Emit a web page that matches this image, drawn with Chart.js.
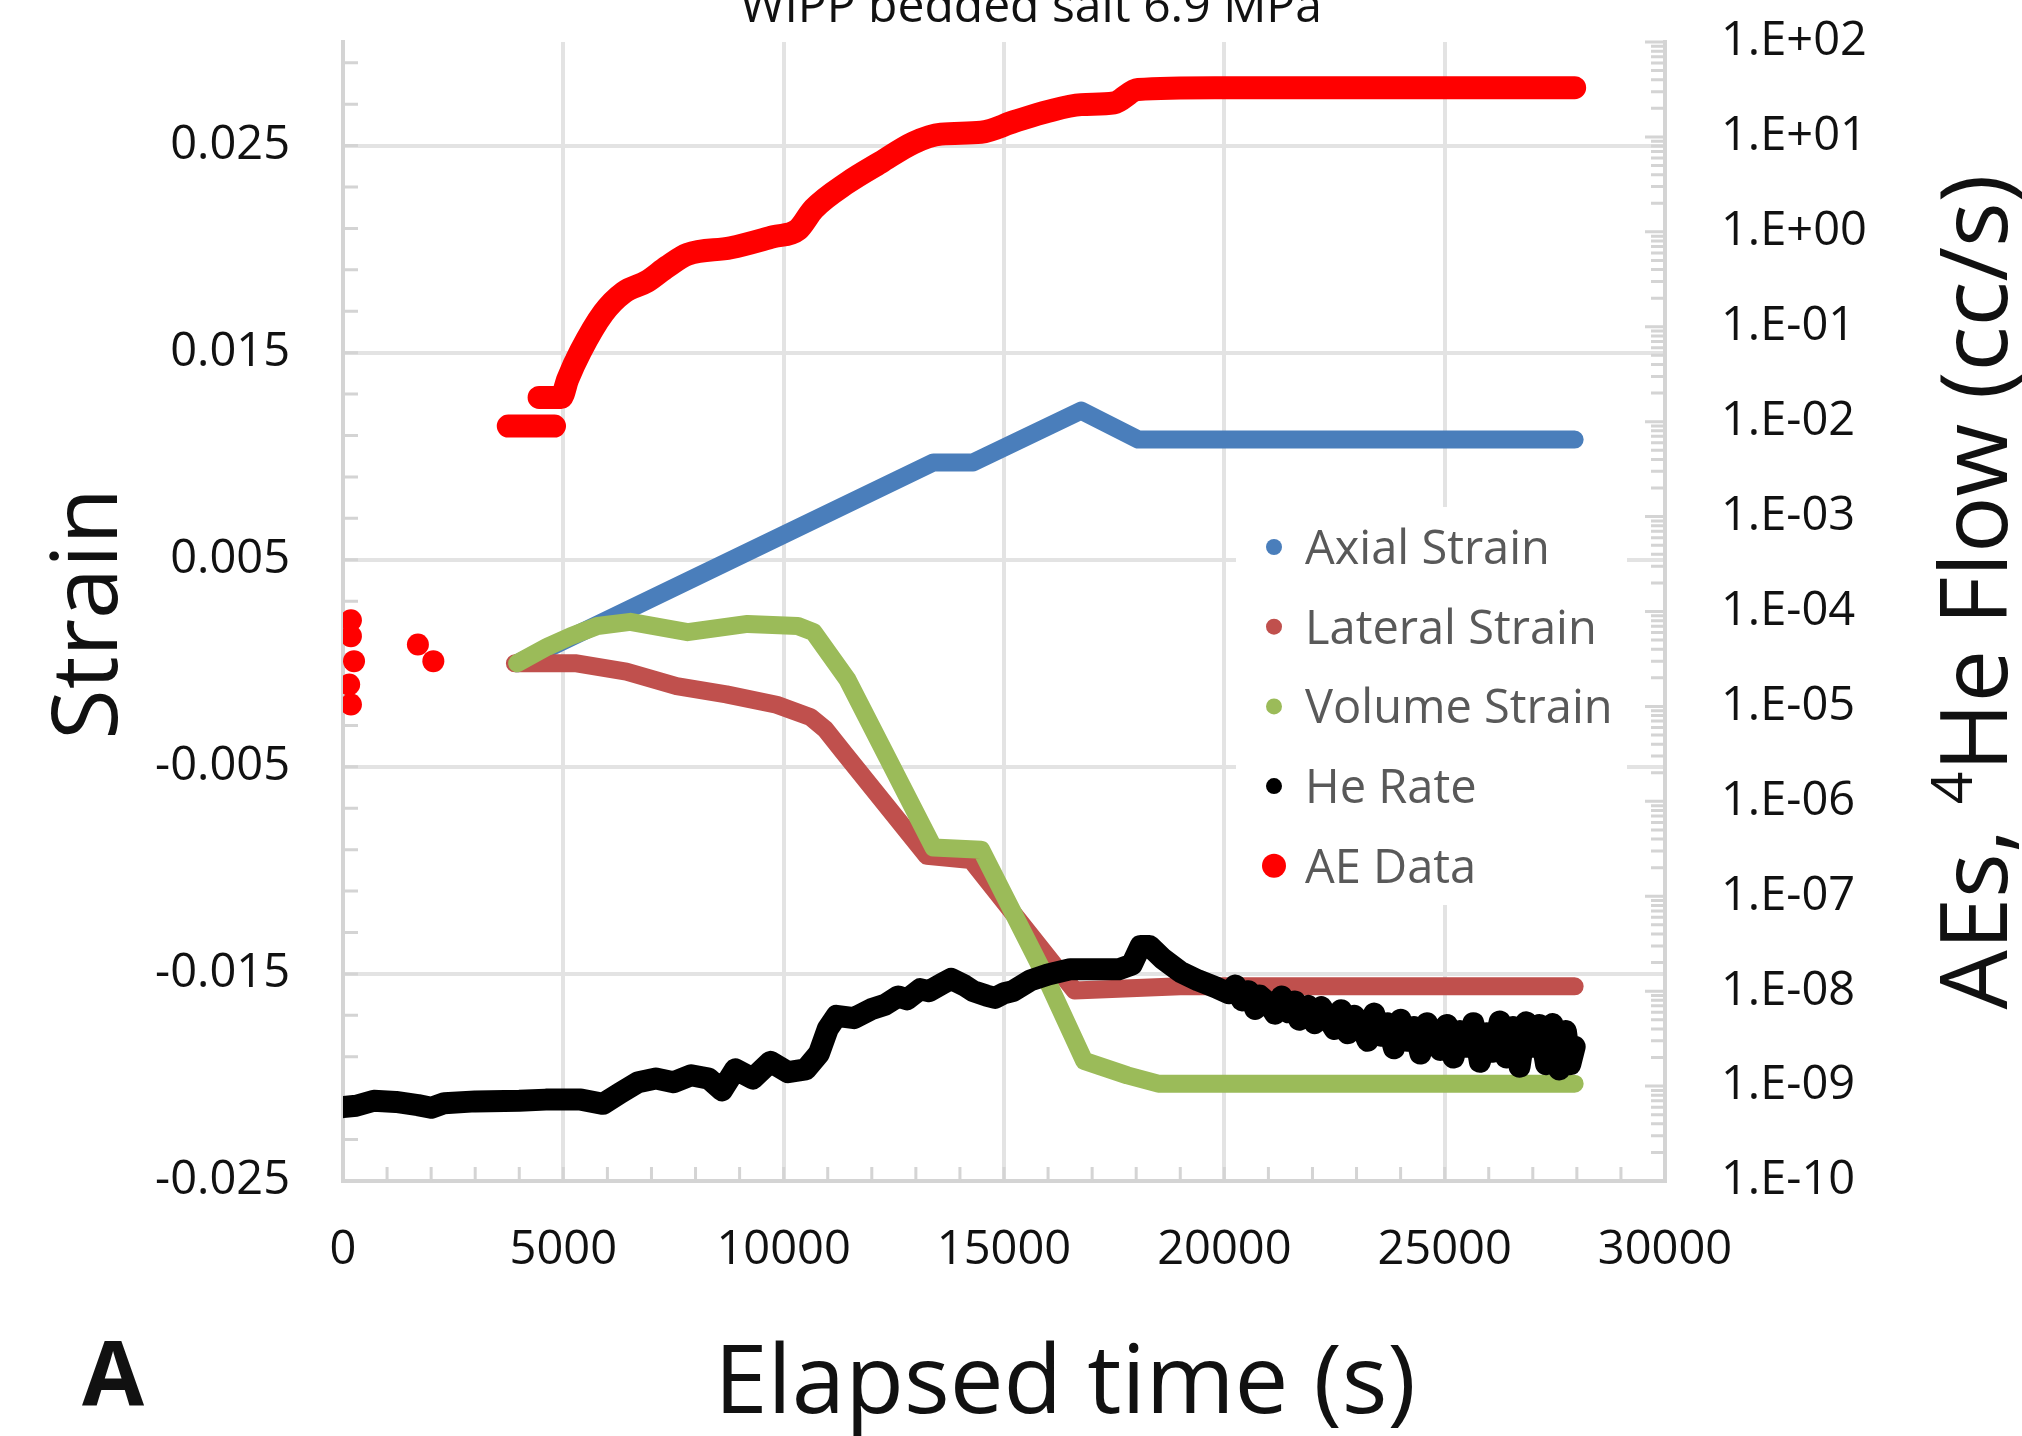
<!DOCTYPE html>
<html>
<head>
<meta charset="utf-8">
<title>WIPP bedded salt 6.9 MPa</title>
<script src="https://cdn.jsdelivr.net/npm/chart.js@4.4.1/dist/chart.umd.min.js"></script>
<style>
  html, body { margin: 0; padding: 0; background: #fff; }
  #chart { display: block; }
</style>
</head>
<body>
<canvas id="chart" width="2022" height="1436"></canvas>
<script>
// Texts
const chartTitle = "WIPP bedded salt 6.9 MPa";
const xTitle = "Elapsed time (s)";
const leftTitle = "Strain";
const panelLetter = "A";

// Tick labels
const timeTicks = [0, 5000, 10000, 15000, 20000, 25000, 30000];
const strainTicks = [-0.025, -0.015, -0.005, 0.005, 0.015, 0.025];
const strainTickLabels = ["-0.025", "-0.015", "-0.005", "0.005", "0.015", "0.025"];
const flowTicks = [1e-10, 1e-9, 1e-8, 1e-7, 1e-6, 1e-5, 1e-4, 1e-3, 1e-2, 1e-1, 1e0, 1e1, 1e2];
const flowTickLabels = ["1.E-10", "1.E-09", "1.E-08", "1.E-07", "1.E-06", "1.E-05", "1.E-04",
                        "1.E-03", "1.E-02", "1.E-01", "1.E+00", "1.E+01", "1.E+02"];

// Axial strain (left axis)
const axialTime = [3950, 13400, 14300, 16750, 18050, 27950];
const axialStrain = [0.0000, 0.0097, 0.0097, 0.0122, 0.0108, 0.0108];

// Lateral strain (left axis)
const lateralTime = [3900, 5300, 6430, 7570, 8700, 9840, 10610, 10950, 11360, 13250, 14250, 16600, 19000, 27950];
const lateralStrain = [0.0000, 0.0000, -0.0004, -0.0011, -0.0015, -0.0020, -0.0026, -0.0032, -0.0043,
                       -0.0093, -0.0095, -0.0158, -0.0156, -0.0156];

// Volume strain (left axis)
const volumeTime = [3950, 4640, 5160, 5770, 6520, 7820, 9180, 10320, 10680, 11450, 13400, 14480, 15910, 16820, 17800, 18500, 27950];
const volumeStrain = [0.0000, 0.0008, 0.0013, 0.0018, 0.0020, 0.0015, 0.0019, 0.0018, 0.0015, -0.0008,
                      -0.0089, -0.0090, -0.0150, -0.0192, -0.0199, -0.0203, -0.0203];

// He rate, cc/s (right axis)
const heTime = [0, 300, 700, 1200, 1700, 2000, 2300, 3000, 4000, 4600, 5400, 5900, 6300, 6700, 7100, 7500,
                7900, 8300, 8600, 8900, 9300, 9700, 10100, 10500, 10800, 11000, 11200, 11600, 12000, 12300,
                12600, 12800, 13100, 13300, 13600, 13800, 14100, 14300, 14600, 14800, 15000, 15200, 15600,
                16000, 16500, 17000, 17600, 17900, 18100, 18300, 18600, 19000, 19400, 19800, 20100,
                20250, 20400, 20550, 20700, 20800, 21000, 21150, 21300, 21450, 21600, 21700, 21900, 22050,
                22200, 22350, 22500, 22650, 22800, 22950, 23100, 23250, 23400, 23550, 23700, 23850, 24000,
                24150, 24300, 24450, 24600, 24750, 24900, 25050, 25200, 25350, 25500, 25650, 25800, 25950,
                26100, 26250, 26400, 26550, 26700, 26850, 27000, 27150, 27300, 27450, 27600, 27750, 27850, 27950];
const heRate = [6.0e-10, 6.2e-10, 7.0e-10, 6.8e-10, 6.3e-10, 5.9e-10, 6.6e-10, 6.9e-10, 7.0e-10, 7.2e-10,
                7.2e-10, 6.5e-10, 8.5e-10, 1.1e-9, 1.2e-9, 1.1e-9, 1.3e-9, 1.2e-9, 9.0e-10, 1.5e-9, 1.2e-9,
                1.8e-9, 1.4e-9, 1.5e-9, 2.2e-9, 4.0e-9, 5.5e-9, 5.2e-9, 6.5e-9, 7.2e-9,
                8.8e-9, 8.2e-9, 1.05e-8, 1.0e-8, 1.2e-8, 1.35e-8, 1.15e-8, 1.0e-8, 9.0e-9, 8.5e-9,
                9.5e-9, 1.0e-8, 1.3e-8,
                1.5e-8, 1.7e-8, 1.7e-8, 1.7e-8, 1.9e-8, 3.0e-8, 3.0e-8, 2.2e-8, 1.6e-8, 1.3e-8, 1.1e-8, 9.5e-9,
                1.15e-8, 8.0e-9, 1.0e-8, 6.5e-9, 9.0e-9, 7.5e-9, 5.8e-9, 8.8e-9, 6.0e-9, 7.8e-9, 5.0e-9, 7.0e-9, 4.6e-9,
                6.8e-9, 5.2e-9, 4.0e-9, 6.3e-9, 3.6e-9, 5.5e-9, 4.5e-9, 3.0e-9, 5.8e-9, 3.4e-9, 4.6e-9, 2.5e-9, 5.0e-9,
                3.0e-9, 4.2e-9, 2.2e-9, 4.6e-9, 3.2e-9, 2.4e-9, 4.4e-9, 2.0e-9, 3.8e-9, 2.6e-9, 4.6e-9, 1.8e-9, 3.6e-9,
                2.3e-9, 4.8e-9, 2.0e-9, 4.2e-9, 1.6e-9, 4.7e-9, 2.6e-9, 4.4e-9, 1.7e-9, 4.5e-9, 1.5e-9, 3.8e-9, 1.7e-9, 2.6e-9];

// AE data (right axis): early isolated events, first plateau, then the dense record
const aeEarlyTime = [180, 180, 250, 140, 180, 1700, 2050];
const aeEarlyCount = [8.1e-5, 5.5e-5, 3.0e-5, 1.7e-5, 1.05e-5, 4.5e-5, 3.0e-5];
const aeFirstTime = [3750, 4800];
const aeFirstCount = [9e-3, 9e-3];
const aeTime = [4450, 4950, 5100, 5390, 5910, 6370, 6900, 7360, 7820, 8800, 9770, 10320, 10680,
                11450, 12200, 12950, 13570, 14480, 15230, 16000, 16750, 17500, 18040, 19780, 27950];
const aeCount = [1.8e-2, 1.8e-2, 2.8e-2, 5.5e-2, 0.14, 0.23, 0.30, 0.43, 0.58, 0.68, 0.89, 1.05,
                 1.74, 3.3, 5.4, 8.7, 10.7, 11.2, 14.5, 18.6, 21.9, 22.9, 31.6, 33, 33];

const FONT = '"Open Sans", "Noto Sans", sans-serif';
const AXIS_GRAY = "#d4d4d4";
const GRID_GRAY = "#e3e3e3";

function toPoints(xs, ys) {
  return xs.map((x, i) => ({ x: x, y: ys[i] }));
}

function lineSet(label, points, color, width, axis, order, smooth) {
  return {
    label: label,
    data: points,
    yAxisID: axis,
    showLine: true,
    borderColor: color,
    backgroundColor: color,
    borderWidth: width,
    borderCapStyle: "round",
    borderJoinStyle: "round",
    cubicInterpolationMode: smooth ? "monotone" : "default",
    pointRadius: 0,
    order: order
  };
}

// gap between the first AE plateau and the rest of the record
const aePoints = toPoints(aeFirstTime, aeFirstCount)
  .concat([{ x: aeFirstTime[1], y: null }])
  .concat(toPoints(aeTime, aeCount));

const datasets = [
  lineSet("Axial Strain", toPoints(axialTime, axialStrain), "#4a7ebb", 18, "y", 6, false),
  lineSet("Lateral Strain", toPoints(lateralTime, lateralStrain), "#c0504d", 18, "y", 5, false),
  lineSet("Volume Strain", toPoints(volumeTime, volumeStrain), "#9bbb59", 18, "y", 4, false),
  lineSet("He Rate", toPoints(heTime, heRate), "#000000", 22, "y2", 3, false),
  lineSet("AE Data", aePoints, "#ff0000", 23, "y2", 1, true),
  {
    label: "AE Data",
    data: toPoints(aeEarlyTime, aeEarlyCount),
    yAxisID: "y2",
    showLine: false,
    backgroundColor: "#ff0000",
    borderWidth: 0,
    pointRadius: 11,
    order: 2
  }
];

// legend marker radius per listed series
const legendRadius = [8, 8, 8, 8, 12];

// inner minor tick marks, as Excel draws them
const minorTicks = {
  id: "minorTicks",
  beforeDatasetsDraw(chart) {
    const { ctx, chartArea: a, scales } = chart;
    ctx.save();
    ctx.strokeStyle = AXIS_GRAY;
    ctx.lineWidth = 3;
    ctx.beginPath();
    for (let i = 0; i <= 27; i++) {
      const y = scales.y.getPixelForValue(-0.025 + i * 0.002);
      ctx.moveTo(a.left, y); ctx.lineTo(a.left + 15, y);
    }
    for (let i = 0; i <= 30; i++) {
      const x = scales.x.getPixelForValue(i * 1000);
      ctx.moveTo(x, a.bottom); ctx.lineTo(x, a.bottom - 14);
    }
    for (let d = -10; d <= 2; d++) {
      const y = scales.y2.getPixelForValue(Math.pow(10, d));
      ctx.moveTo(a.right - 20, y); ctx.lineTo(a.right, y);
      if (d === 2) break;
      for (let k = 2; k <= 9; k++) {
        const ym = scales.y2.getPixelForValue(k * Math.pow(10, d));
        ctx.moveTo(a.right - 14, ym); ctx.lineTo(a.right, ym);
      }
    }
    ctx.stroke();
    ctx.restore();
  }
};

// legend box inside the plot (white, hides gridlines)
const innerLegend = {
  id: "innerLegend",
  beforeDatasetsDraw(chart) {
    const ctx = chart.ctx;
    ctx.save();
    ctx.fillStyle = "#ffffff";
    ctx.fillRect(1236, 507, 391, 398);
    ctx.font = "47px " + FONT;
    ctx.textAlign = "left";
    ctx.textBaseline = "alphabetic";
    chart.data.datasets.slice(0, 5).forEach((ds, i) => {
      const cy = 547 + i * 79.7;
      ctx.fillStyle = ds.backgroundColor;
      ctx.beginPath();
      ctx.arc(1274, cy, legendRadius[i], 0, Math.PI * 2);
      ctx.fill();
      ctx.fillStyle = "#595959";
      ctx.fillText(ds.label, 1305, cy + 17);
    });
    ctx.restore();
  }
};

// titles drawn at their places in the figure
const figureText = {
  id: "figureText",
  afterDraw(chart) {
    const ctx = chart.ctx;
    ctx.save();
    ctx.fillStyle = "#111111";
    ctx.textBaseline = "alphabetic";
    ctx.textAlign = "center";
    ctx.font = "48px " + FONT;
    ctx.fillText(chartTitle, 1031, 22);
    ctx.font = "96px " + FONT;
    ctx.fillText(xTitle, 1065, 1413);
    ctx.textAlign = "left";
    ctx.font = "bold 90px " + FONT;
    ctx.fillText(panelLetter, 82, 1405);

    ctx.save();
    ctx.translate(117, 614);
    ctx.rotate(-Math.PI / 2);
    ctx.textAlign = "center";
    ctx.font = "92px " + FONT;
    ctx.fillText(leftTitle, 0, 0);
    ctx.restore();

    // right title with superscript 4
    ctx.save();
    ctx.translate(2007, 592);
    ctx.rotate(-Math.PI / 2);
    ctx.textAlign = "left";
    const big = "94px " + FONT, small = "57px " + FONT;
    const parts = [["AEs, ", big, 0], ["4", small, -35], ["He Flow (cc/s)", big, 0]];
    let total = 0;
    parts.forEach(p => { ctx.font = p[1]; total += ctx.measureText(p[0]).width; });
    let x = -total / 2;
    parts.forEach(p => {
      ctx.font = p[1];
      ctx.fillText(p[0], x, p[2]);
      x += ctx.measureText(p[0]).width;
    });
    ctx.restore();
    ctx.restore();
  }
};

function noEdgePadding(s) {
  s.paddingTop = 0; s.paddingBottom = 0; s.paddingLeft = 0; s.paddingRight = 0;
}

new Chart(document.getElementById("chart"), {
  type: "scatter",
  data: { datasets: datasets },
  plugins: [minorTicks, innerLegend, figureText],
  options: {
    responsive: false,
    animation: false,
    devicePixelRatio: 1,
    spanGaps: false,
    layout: { padding: { top: 42, left: 0, right: 0, bottom: 0 } },
    plugins: { legend: { display: false }, tooltip: { enabled: false } },
    scales: {
      x: {
        type: "linear",
        position: "bottom",
        min: 0,
        max: 30000,
        afterFit: s => { s.height = 255; noEdgePadding(s); },
        afterBuildTicks: s => { s.ticks = timeTicks.map(v => ({ value: v })); },
        ticks: { padding: 41, color: "#111", font: { family: FONT, size: 47 }, maxRotation: 0, autoSkip: false,
                 callback: v => String(v) },
        grid: { color: GRID_GRAY, lineWidth: 4, drawTicks: false },
        border: { color: AXIS_GRAY, width: 4 }
      },
      y: {
        type: "linear",
        position: "left",
        min: -0.025,
        max: 0.03,
        afterFit: s => { s.width = 343; noEdgePadding(s); },
        afterBuildTicks: s => { s.ticks = strainTicks.map(v => ({ value: v })); },
        ticks: { padding: 53, color: "#111", font: { family: FONT, size: 47 }, autoSkip: false,
                 callback: (v, i) => strainTickLabels[i] },
        grid: { color: GRID_GRAY, lineWidth: 4, drawTicks: false },
        border: { color: AXIS_GRAY, width: 4 }
      },
      y2: {
        type: "logarithmic",
        position: "right",
        min: 1e-10,
        max: 1e2,
        afterFit: s => { s.width = 357; noEdgePadding(s); },
        afterBuildTicks: s => { s.ticks = flowTicks.map(v => ({ value: v })); },
        ticks: { padding: 56, color: "#111", font: { family: FONT, size: 47 }, autoSkip: false,
                 callback: (v, i) => flowTickLabels[i] },
        grid: { drawOnChartArea: false, drawTicks: false },
        border: { color: AXIS_GRAY, width: 4 }
      }
    }
  }
});
</script>
</body>
</html>
